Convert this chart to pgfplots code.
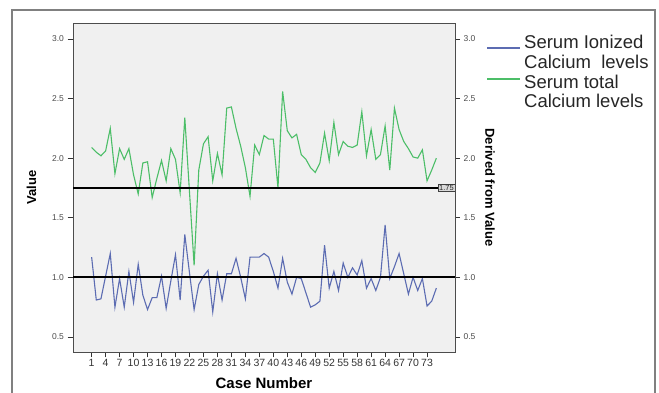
\documentclass[border=0pt]{standalone}
\usepackage{pgfplots}
\pgfplotsset{compat=1.18}
\usepackage{pgfplotstable}
\usepackage{fontspec}
\setmainfont{Liberation Sans}
\definecolor{bgray}{RGB}{240,240,240}
\definecolor{ionblue}{RGB}{92,108,178}
\definecolor{totgreen}{RGB}{76,190,104}
\definecolor{framegray}{RGB}{128,128,128}
\pgfplotstableread{
case ion total
1 1.17 2.09
2 0.81 2.05
3 0.82 2.02
4 1.01 2.06
5 1.20 2.25
6 0.75 1.87
7 0.99 2.08
8 0.75 1.99
9 1.05 2.08
10 0.79 1.86
11 1.11 1.70
12 0.85 1.96
13 0.73 1.97
14 0.83 1.67
15 0.83 1.83
16 1.01 1.98
17 0.74 1.81
18 0.97 2.08
19 1.19 1.99
20 0.81 1.71
21 1.36 2.34
22 1.04 1.72
23 0.73 1.10
24 0.94 1.90
25 1.01 2.12
26 1.06 2.18
27 0.71 1.81
28 1.03 2.04
29 0.81 1.86
30 1.03 2.42
31 1.03 2.43
32 1.16 2.25
33 1.00 2.10
34 0.82 1.92
35 1.17 1.68
36 1.17 2.11
37 1.17 2.03
38 1.20 2.19
39 1.17 2.16
40 1.05 2.16
41 0.91 1.75
42 1.16 2.56
43 0.96 2.23
44 0.86 2.17
45 1.00 2.20
46 0.99 2.03
47 0.87 1.99
48 0.75 1.92
49 0.77 1.88
50 0.80 1.96
51 1.27 2.21
52 0.91 1.98
53 1.05 2.30
54 0.89 2.03
55 1.12 2.14
56 1.00 2.10
57 1.08 2.09
58 1.02 2.11
59 1.14 2.39
60 0.91 2.02
61 0.99 2.24
62 0.89 1.99
63 1.00 2.03
64 1.44 2.27
65 0.99 1.90
66 1.09 2.42
67 1.20 2.24
68 1.03 2.14
69 0.86 2.08
70 1.00 2.01
71 0.89 2.00
72 0.99 2.07
73 0.76 1.81
74 0.80 1.90
75 0.91 2.00
}\calcdata
\begin{document}
\begin{tikzpicture}[x=1pt,y=1pt]
\useasboundingbox (0,0) rectangle (659,393);
\draw[framegray, line width=2pt] (12,-10) -- (12,383) -- (655,383) -- (655,-10);
\pgfplotsset{
  mybase/.style={
    at={(73pt,41pt)}, anchor=south west, scale only axis,
    width=382pt, height=329pt,
    xmin=-3, xmax=79, ymin=0.374, ymax=3.134,
    ytick={0.5,1.0,1.5,2.0,2.5,3.0},
    yticklabel style={/pgf/number format/fixed,/pgf/number format/fixed zerofill,/pgf/number format/precision=1, font=\fontsize{8.5}{9}\selectfont, text=black!70},
    /pgf/number format/assume math mode=true,
    tick align=outside, major tick length=5pt,
    tick style={black!80, line width=0.8pt},
  }
}
\begin{axis}[mybase,
  axis background/.style={fill=bgray},
  axis line style={black!70, line width=0.8pt},
  xtick={1,4,...,73}, xtick pos=bottom, ytick pos=left,
  major tick length=5.5pt,
  xticklabel style={font=\fontsize{10.5}{11}\selectfont, text=black!80, inner sep=1pt, text height=7.5pt, text depth=0pt, anchor=north},
  xlabel={\bfseries Case Number}, xlabel style={font=\fontsize{15}{17}\selectfont, yshift=-7pt},
  ylabel={\bfseries Value}, ylabel style={font=\fontsize{13}{15}\selectfont, yshift=9pt},
]
\addplot[ionblue, line width=1.1pt] table[x=case, y=ion] {\calcdata};
\addplot[totgreen, line width=1.1pt] table[x=case, y=total] {\calcdata};
\addplot[black, line width=1.8pt] coordinates {(-3,1.75) (79,1.75)};
\addplot[black, line width=1.8pt] coordinates {(-3,1.0) (79,1.0)};
\node[anchor=east, draw=black!75, fill=gray!30, text=black!85, inner sep=1pt, font=\fontsize{7.5}{8}\selectfont] at (axis cs:79,1.75) {1.75};
\end{axis}
\begin{axis}[mybase,
  axis y line*=right, axis x line=none,
  ylabel={\bfseries Derived from Value},
  ylabel style={font=\fontsize{13}{15}\selectfont, rotate=180, yshift=3pt},
  axis line style={black!70, line width=0.8pt},
]
\end{axis}
\draw[ionblue, line width=1.6pt] (487,345) -- (520,345);
\draw[totgreen, line width=1.6pt] (487,314) -- (520,314);
\begin{scope}[every node/.style={anchor=west, inner sep=0pt, font=\fontsize{18.5}{19}\selectfont, text=black!85}]
\node at (524,351) {Serum Ionized};
\node at (524,331) {Calcium\ \ levels};
\node at (524,311) {Serum total};
\node at (524,292) {Calcium levels};
\end{scope}
\end{tikzpicture}
\end{document}
